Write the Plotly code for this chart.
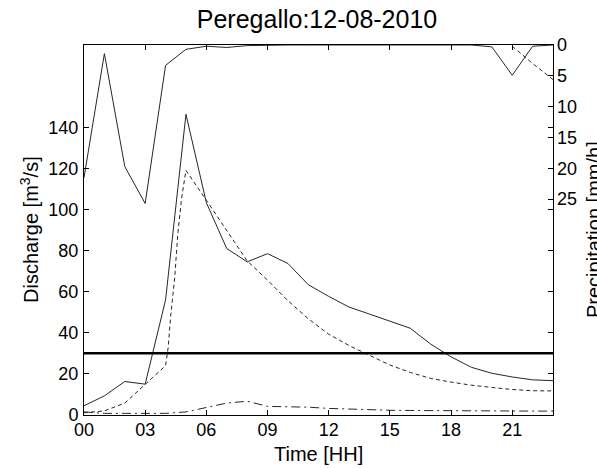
import plotly.graph_objects as go

# ---- data ----
hours = list(range(24))
obs_discharge = [4.5, 9.3, 16.3, 15.0, 56, 146.3, 103.3, 81, 74.5, 78.5, 73.7, 63.4,
                 57.7, 52.5, 49.1, 45.8, 42.2, 34.5, 28.3, 23.2, 20.3, 18.5, 17.1, 16.7]
sim_time = [0, 1, 2, 3, 4, 4.13, 4.25, 4.45, 4.6, 4.78, 5.0, 6, 7, 8, 9, 10, 11, 12,
            13, 14, 15, 16, 17, 18, 19, 20, 21, 22, 23]
sim_discharge = [1.1, 2.0, 5.8, 15, 24, 33, 48, 67, 88, 105, 119, 104.5, 90, 75, 65.6,
                 55.6, 46.8, 39.3, 33.8, 29.1, 24.3, 20.7, 17.8, 16.0, 14.5, 13.4, 12.4,
                 11.8, 11.7]
base_discharge = [1.5, 0.8, 0.8, 0.8, 0.8, 1.5, 3.5, 5.8, 6.7, 4.2, 4.0, 3.8, 3.2, 2.8,
                  2.5, 2.3, 2.2, 2.1, 2.0, 2.0, 2.0, 1.9, 1.9, 1.9]
threshold = 30
precip_obs = [21.5, 1.4, 19.7, 25.7, 3.3, 0.7, 0.2, 0.4, 0.1, 0, 0, 0, 0, 0, 0, 0, 0,
              0, 0, 0, 0.3, 4.9, 0.2, 0]
precip_fc = [None] * 21 + [0.2, 3.0, 5.6]

x_ticks = [0, 3, 6, 9, 12, 15, 18, 21]
x_labels = ["00", "03", "06", "09", "12", "15", "18", "21"]
y_ticks = [0, 20, 40, 60, 80, 100, 120, 140]
y2_ticks = [0, 5, 10, 15, 20, 25]

FONT = "Liberation Sans, Arial, sans-serif"
LC = "#262626"

fig = go.Figure()
fig.add_trace(go.Scatter(x=hours, y=obs_discharge, mode="lines",
                         line=dict(color=LC, width=1)))
fig.add_trace(go.Scatter(x=sim_time, y=sim_discharge, mode="lines",
                         line=dict(color=LC, width=1, dash="4px,3px")))
fig.add_trace(go.Scatter(x=hours, y=base_discharge, mode="lines",
                         line=dict(color=LC, width=1, dash="9px,4px,2px,4px")))
fig.add_trace(go.Scatter(x=[hours[0], hours[-1]], y=[threshold, threshold], mode="lines",
                         line=dict(color="black", width=2.5)))
fig.add_trace(go.Scatter(x=hours, y=precip_obs, mode="lines", yaxis="y2",
                         line=dict(color=LC, width=1)))
fig.add_trace(go.Scatter(x=hours, y=precip_fc, mode="lines", yaxis="y2",
                         line=dict(color=LC, width=1, dash="4px,3px")))

W, H = 597, 468
L, R, T, B = 84, 44, 45, 53
pw = W - L - R

fig.update_layout(
    width=W, height=H,
    margin=dict(l=L, r=R, t=T, b=B, pad=0),
    paper_bgcolor="white", plot_bgcolor="white",
    showlegend=False,
    font=dict(family=FONT, size=18, color="black"),
    title=dict(text="Peregallo:12-08-2010", font=dict(size=25, family=FONT),
               x=317 / W, xanchor="center", xref="container",
               y=1 - 19 / H, yanchor="middle", yref="container"),
    xaxis=dict(range=[0, 23], tickvals=x_ticks, ticktext=x_labels,
               ticks="inside", ticklen=5, tickcolor="black",
               showline=True, linecolor="black", linewidth=1, mirror="ticks",
               showgrid=False, zeroline=False, ticklabelstandoff=-2,
               layer="above traces"),
    yaxis=dict(range=[0, 180], tickvals=y_ticks,
               ticks="inside", ticklen=5, tickcolor="black",
               showline=True, linecolor="black", linewidth=1, mirror="ticks",
               showgrid=False, zeroline=False, ticklabelstandoff=1,
               layer="above traces"),
    yaxis2=dict(range=[60, 0], tickvals=y2_ticks, overlaying="y", side="right",
                ticks="inside", ticklen=5, tickcolor="black",
                showline=False, showgrid=False, zeroline=False,
                ticklabelstandoff=3, layer="above traces"),
    annotations=[
        dict(text="Time [HH]", xref="paper", yref="paper",
             x=0.5, y=-(454 - 415) / (H - T - B), xanchor="center", yanchor="middle",
             showarrow=False, font=dict(size=20, family=FONT)),
        dict(text="Discharge [m<sup>3</sup>/s]", xref="paper", yref="paper",
             x=-(84 - 29) / pw, y=0.5, xanchor="center", yanchor="middle",
             textangle=-90, showarrow=False, font=dict(size=20, family=FONT)),
        dict(text="Precipitation [mm/h]", xref="paper", yref="paper",
             x=1 + (594 - 553) / pw, y=0.5, xanchor="center", yanchor="middle",
             textangle=-90, showarrow=False, font=dict(size=20, family=FONT)),
    ],
)

fig.write_html("out.html")
